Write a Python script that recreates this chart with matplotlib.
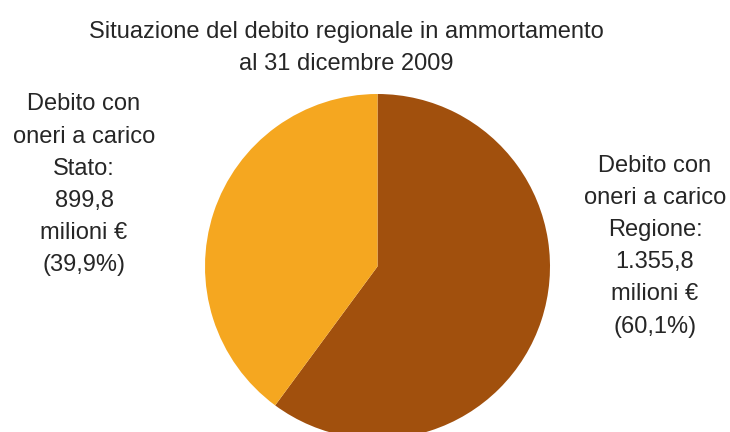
import matplotlib.pyplot as plt

# data
labels = ['Debito con\noneri a carico\nRegione:\n1.355,8\nmilioni €\n(60,1%)',
          'Debito con\noneri a carico\nStato:\n899,8\nmilioni €\n(39,9%)']
values = [1355.8, 899.8]
colors = ['#A1500D', '#F5A720']
title = 'Situazione del debito regionale in ammortamento\nal 31 dicembre 2009'

plt.rcParams['font.family'] = ['Liberation Sans', 'DejaVu Sans']
W, H = 730, 432
fig = plt.figure(figsize=(W / 100, H / 100), dpi=100)
ax = fig.add_axes([0, 0, 1, 1])

ax.pie(values, colors=colors, startangle=90, counterclock=False,
       center=(377.5, H - 266.5), radius=172.5,
       wedgeprops=dict(linewidth=0))
ax.set_xlim(0, W)
ax.set_ylim(0, H)
ax.set_aspect('equal')
ax.axis('off')

txt = dict(fontsize=17, color='#262626', ha='center', va='center', linespacing=1.6)
ax.text(346, H - 48, title, **txt)
ax.text(655, H - 246, labels[0], **txt)
ax.text(84, H - 185, labels[1], **txt)

fig.savefig('out.png', dpi=100)
